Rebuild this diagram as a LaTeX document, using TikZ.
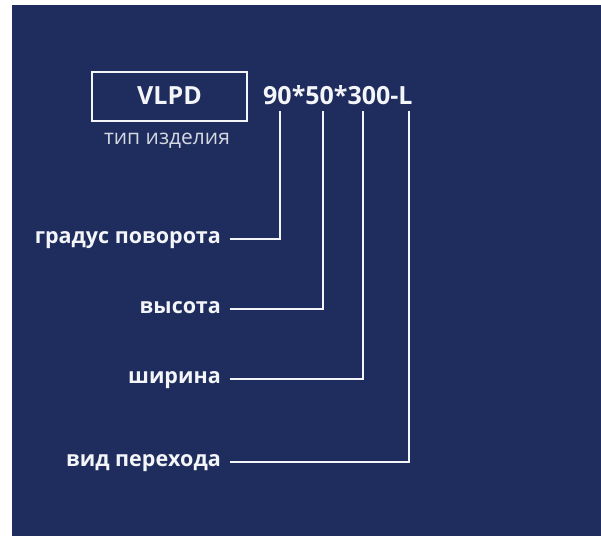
\documentclass[tikz,border=0pt]{standalone}
\usepackage{fontspec}
\setmainfont{Open Sans}
\definecolor{bg}{HTML}{1E2D5D}
\definecolor{fg}{HTML}{F4F5F8}
\definecolor{sub}{HTML}{D5D8E1}
\begin{document}
\begin{tikzpicture}[x=1pt,y=-1pt,
  lab/.style={anchor=mid east,inner sep=0pt,text=fg,font=\fontsize{21.5}{24}\selectfont\bfseries},
  lead/.style={draw=fg,line width=1.6pt},
  code/.style={inner sep=0pt,text=fg,font=\fontsize{25}{28}\selectfont\bfseries}]
\useasboundingbox (0,0) rectangle (601,536);
\fill[white] (0,0) rectangle (601,536);
\fill[bg] (12,5) rectangle (601,536);
\node[code,draw=fg,line width=1.8pt,minimum width=155pt,minimum height=49pt,text depth=2pt] (type) at (169.5,96.5) {VLPD};
\node[inner sep=0pt,anchor=base,text=sub,font=\fontsize{21}{24}\selectfont] (typelab) at (167,144.5) {тип изделия};
\node[code,anchor=base west] (spec) at (263,104.5) {90*50*300-L};
\coordinate (c1) at (280,111);
\coordinate (c2) at (323,111);
\coordinate (c3) at (363,111);
\coordinate (c4) at (409,111);
\node[lab] (l1) at (221,241) {градус поворота};
\node[lab] (l2) at (221,311) {высота};
\node[lab] (l3) at (221,381) {ширина};
\node[lab] (l4) at (221,464) {вид перехода};
\draw[lead] ([xshift=9pt,yshift=2pt]l1.mid east) -| (c1);
\draw[lead] ([xshift=9pt,yshift=2pt]l2.mid east) -| (c2);
\draw[lead] ([xshift=9pt,yshift=2pt]l3.mid east) -| (c3);
\draw[lead] ([xshift=9pt,yshift=2pt]l4.mid east) -| (c4);
\end{tikzpicture}
\end{document}
